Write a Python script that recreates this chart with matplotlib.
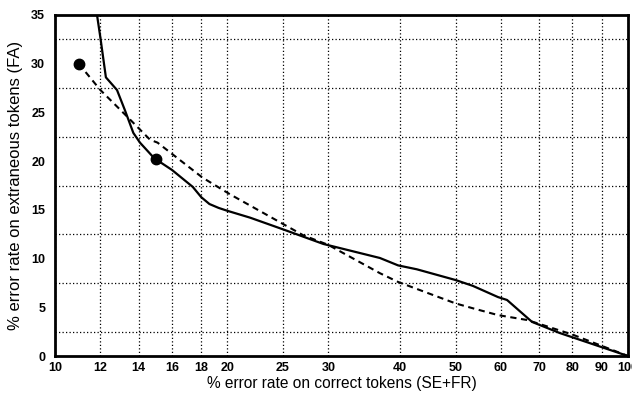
import matplotlib
matplotlib.use('Agg')
import matplotlib.pyplot as plt
from matplotlib.ticker import FixedLocator, NullLocator

# solid curve
solid_x = [11.84, 12.0, 12.27, 12.83, 13.25, 13.7, 14.07, 14.9, 16.0, 17.4, 18.0, 18.6,
           19.3, 20.0, 21.9, 25.0, 29.4, 36.9, 39.7, 42.8, 50.0, 53.6, 59.3, 61.5, 68.0,
           76.0, 100.0]
solid_y = [35.0, 32.7, 28.6, 27.3, 25.2, 22.9, 21.9, 20.3, 19.1, 17.35, 16.3, 15.6,
           15.2, 14.9, 14.2, 13.0, 11.5, 10.06, 9.3, 8.9, 7.8, 7.2, 6.05, 5.75, 3.5,
           2.36, 0.0]

# dashed curve
dash_x = [11.0, 12.0, 13.4, 14.65, 15.1, 18.1, 20.2, 27.1, 30.0, 36.9, 39.7, 50.0, 53.6,
          59.3, 66.6, 70.0, 80.0, 100.0]
dash_y = [30.0, 27.3, 24.5, 22.2, 21.9, 18.3, 16.6, 12.4, 11.4, 8.5, 7.6, 5.4, 4.9,
          4.2, 3.7, 3.3, 2.2, 0.0]

# marked points
dot_x = [11.0, 15.0]
dot_y = [30.0, 20.2]

xticks = [10, 12, 14, 16, 18, 20, 25, 30, 40, 50, 60, 70, 80, 90, 100]
yticks = [0, 5, 10, 15, 20, 25, 30, 35]
ygrid = [2.5 * i for i in range(15)]

plt.rcParams['font.family'] = ['Liberation Sans', 'DejaVu Sans']

fig = plt.figure(figsize=(6.32, 4.03), dpi=100)
ax = fig.add_axes([0.087, 0.1166, 0.9067, 0.8462])

ax.plot(solid_x, solid_y, color='black', linewidth=1.6, solid_capstyle='butt')
ax.plot(dash_x, dash_y, color='black', linewidth=1.5, linestyle=(0, (3, 2.2)))
ax.plot(dot_x, dot_y, 'o', color='black', markersize=7.5)

ax.set_xscale('log')
ax.set_xlim(10, 100)
ax.set_ylim(0, 35)

ax.xaxis.set_major_locator(FixedLocator(xticks))
ax.xaxis.set_minor_locator(NullLocator())
ax.set_xticklabels([str(t) for t in xticks])
ax.yaxis.set_major_locator(FixedLocator(yticks))
ax.yaxis.set_minor_locator(FixedLocator(ygrid))

for t in ax.get_xticklabels() + ax.get_yticklabels():
    t.set_fontweight('bold')
    t.set_fontsize(9)

ax.tick_params(axis='x', which='both', length=0, pad=4)
ax.tick_params(axis='y', which='both', length=0, pad=7)
ax.grid(True, axis='x', which='major', color='black', linestyle=(0, (1, 1.8)), linewidth=0.9)
ax.grid(True, axis='y', which='minor', color='black', linestyle=(0, (1, 1.8)), linewidth=0.9)

for s in ax.spines.values():
    s.set_linewidth(2)

ax.set_xlabel('% error rate on correct tokens (SE+FR)', fontsize=11.2, labelpad=2)
ax.set_ylabel('% error rate on extraneous tokens (FA)', fontsize=12, labelpad=6)

plt.savefig('out.png', dpi=100)
